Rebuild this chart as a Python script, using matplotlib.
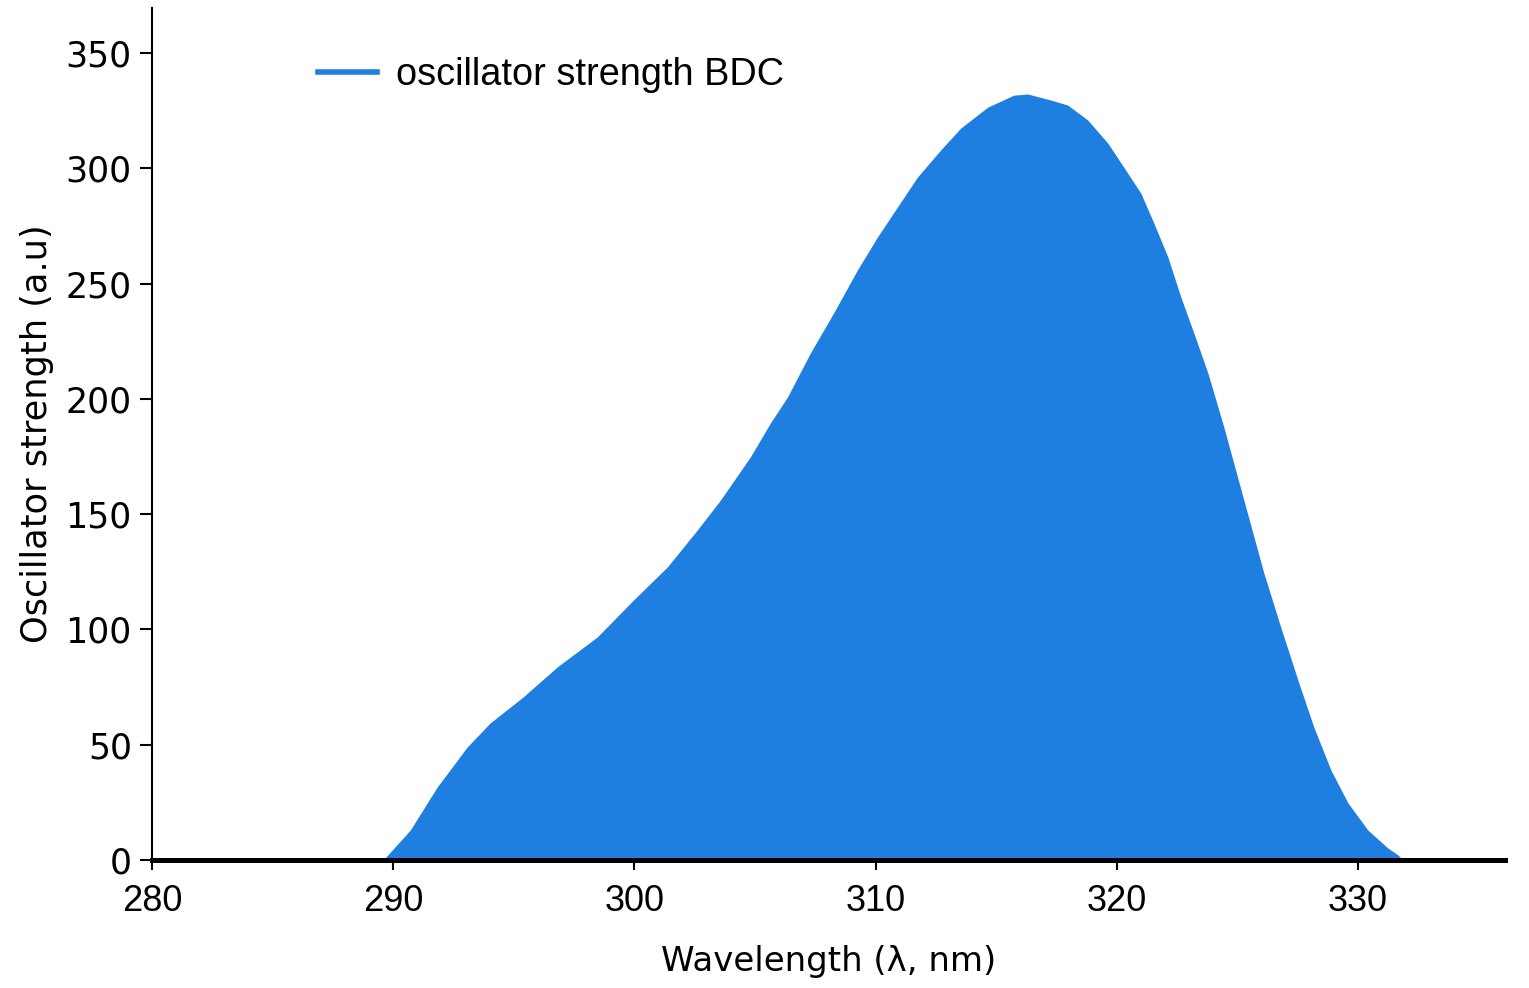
import numpy as np
import matplotlib
matplotlib.use("Agg")
import matplotlib.pyplot as plt

# values
wavelength = [289.59, 290.71, 291.83, 293.07, 294.02, 295.39, 296.80, 298.46,
              299.96, 301.37, 302.61, 303.57, 304.81, 305.64, 306.35, 307.30,
              308.26, 309.25, 310.08, 310.91, 311.74, 312.70, 313.53, 314.65,
              315.73, 316.31, 317.26, 317.97, 318.80, 319.63, 320.29, 321.00,
              321.54, 322.12, 322.66, 323.20, 323.78, 324.44, 325.27, 326.10,
              326.80, 327.51, 328.17, 328.88, 329.59, 330.41, 331.24, 331.66,
              331.87]
strength = [0.0, 13.0, 31.7, 49.0, 59.4, 70.7, 83.7, 96.7,
            112.7, 127.1, 143.1, 156.1, 174.8, 189.5, 200.8, 219.9,
            237.2, 255.9, 270.2, 283.2, 296.2, 307.9, 317.4, 326.5,
            331.7, 332.2, 329.6, 327.4, 320.9, 310.9, 300.5, 289.2,
            276.2, 261.5, 244.1, 228.5, 211.2, 187.8, 156.1, 124.5,
            101.0, 78.1, 57.7, 39.0, 24.7, 13.0, 5.2, 2.2,
            0.0]
xticks = [280, 290, 300, 310, 320, 330]
yticks = [0, 50, 100, 150, 200, 250, 300, 350]

blue = '#1f7fe1'

fig = plt.figure(figsize=(15.29, 9.88), dpi=100)
ax = fig.add_axes([0.0994, 0.1296, 0.8849, 0.8623])

ax.fill_between(wavelength, strength, 0, color=blue, lw=0)
ax.plot(wavelength, strength, color=blue, lw=3.6, alpha=0,
        label='oscillator strength BDC')

ax.set_xlim(280, 336.1)
ax.set_ylim(0, 369.5)
ax.set_xticks(xticks)
ax.set_yticks(yticks)

for s in ['top', 'right']:
    ax.spines[s].set_visible(False)
ax.spines['left'].set_linewidth(1.5)
ax.spines['bottom'].set_linewidth(3.6)
ax.spines['bottom'].set_zorder(5)

ax.tick_params(axis='y', length=8.5, width=1.5, labelsize=25, pad=6)
ax.tick_params(axis='x', length=7, width=1.5, pad=10)
for t in ax.get_xticklabels():
    t.set_fontfamily('Liberation Sans')
    t.set_fontsize(26)

ax.set_xlabel('Wavelength (λ, nm)', fontsize=24.5, labelpad=19)
ax.set_ylabel('Oscillator strength (a.u)', fontsize=25.3, labelpad=8)

leg = ax.legend(loc='upper left', bbox_to_anchor=(0.123, 0.942), frameon=False,
                borderpad=0, borderaxespad=0, handlelength=1.55, handletextpad=0.5,
                prop={'family': 'Liberation Sans', 'size': 27.3})
for h in leg.get_lines():
    h.set_alpha(1)
    h.set_linewidth(4)

fig.savefig('out.png', dpi=100, facecolor='white')
